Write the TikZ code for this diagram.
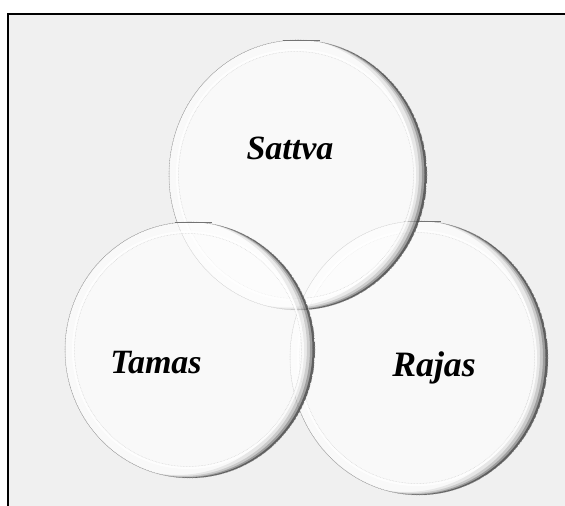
\documentclass[tikz,border=0pt]{standalone}
\usepackage{fontspec}
\setmainfont{Liberation Serif}
\definecolor{bggray}{HTML}{F0F0F0}
\newcommand{\glassdisc}[4]{%
  \fill[white, fill opacity=0.6] (#1,#2) ellipse [x radius=#3, y radius=#4];
  \begin{scope}
    \clip (#1,#2) ellipse [x radius=#3, y radius=#4];
    \fill[black, fill opacity=0.07, even odd rule] (#1,#2) ellipse [x radius=#3, y radius=#4] (#1-13,#2+3) ellipse [x radius=#3, y radius=#4];
    \fill[black, fill opacity=0.12, even odd rule] (#1,#2) ellipse [x radius=#3, y radius=#4] (#1-8,#2+2) ellipse [x radius=#3, y radius=#4];
    \fill[black, fill opacity=0.22, even odd rule] (#1,#2) ellipse [x radius=#3, y radius=#4] (#1-5,#2+1) ellipse [x radius=#3, y radius=#4];
    \fill[black, fill opacity=0.40, even odd rule] (#1,#2) ellipse [x radius=#3, y radius=#4] (#1-2.5,#2+0.5) ellipse [x radius=#3, y radius=#4];
  \end{scope}
  \draw[black!35, densely dotted, line width=0.6pt] (#1,#2) ellipse [x radius=#3, y radius=#4];
  \draw[white, line width=2pt, opacity=0.8] (#1-2,#2) ellipse [x radius=#3-10, y radius=#4-10];
  \draw[black!18, line width=0.5pt, densely dotted] (#1-2,#2) ellipse [x radius=#3-11.5, y radius=#4-11.5];
  \draw[black!55, line width=1.2pt] (#1-15,#2+#4-0.5) -- (#1+22,#2+#4-0.5);
}
\tikzset{
  lbl/.style={font=\fontsize{34}{40}\selectfont\bfseries\itshape, text=black, inner sep=0pt}
}
\begin{document}
\begin{tikzpicture}[x=1pt,y=1pt]
  \useasboundingbox (0,0) rectangle (565,506);
  \fill[white] (0,0) rectangle (565,506);
  \fill[bggray] (8,0) rectangle (565,492);
  \draw[line width=1.3pt] (8,0) -- (8,492) -- (565,492);
  % discs: Rajas, Sattva, Tamas
  \glassdisc{419}{148}{129}{137}
  \glassdisc{298}{331}{129}{135}
  \glassdisc{190}{156}{125}{128}
  \node[lbl] (sattva) at (290,358) {Sattva};
  \node[lbl] (tamas) at (156,143) {Tamas};
  \node[lbl, scale=1.05] (rajas) at (434,138) {Rajas};
\end{tikzpicture}
\end{document}
